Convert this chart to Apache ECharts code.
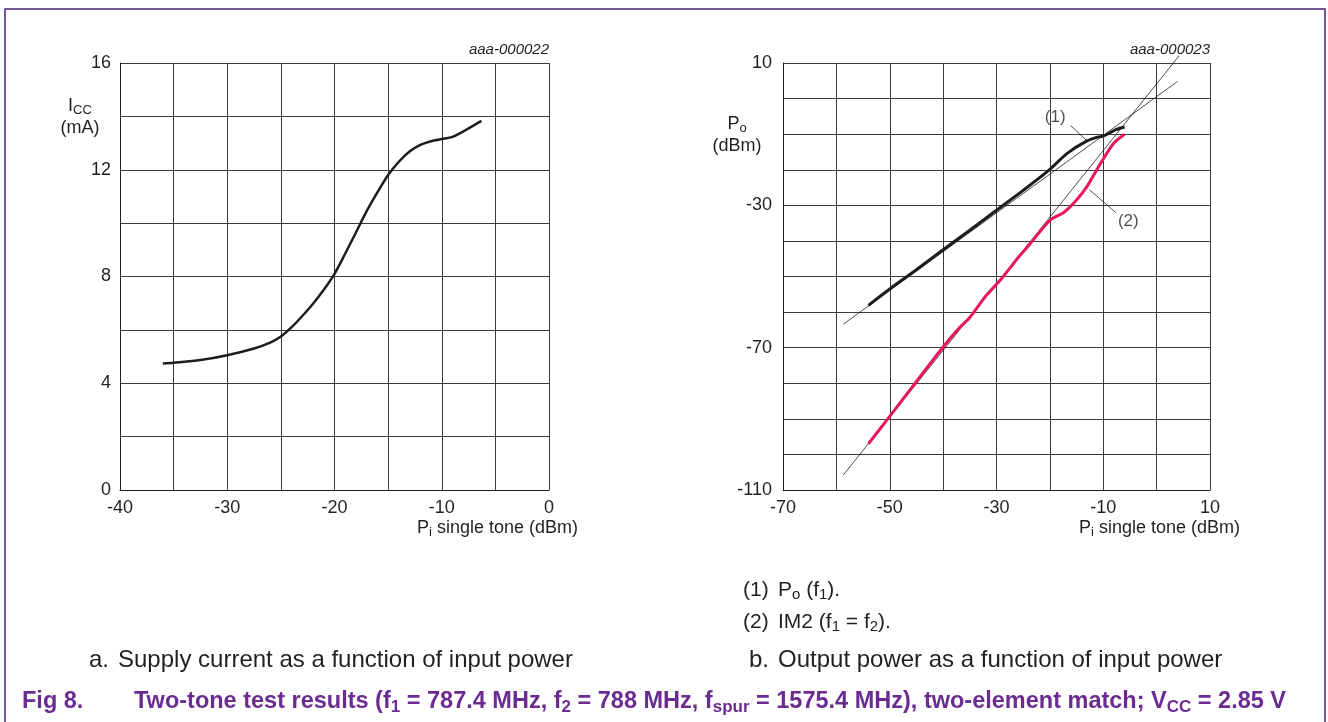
<!DOCTYPE html>
<html>
<head>
<meta charset="utf-8">
<title>Two-tone test results</title>
<script src="https://cdn.jsdelivr.net/npm/echarts@6/dist/echarts.min.js"></script>
<style>
  html, body { margin: 0; padding: 0; background: #fff; }
  #chart { width: 1328px; height: 722px; }
</style>
</head>
<body>
<div id="chart"></div>
<script>
// a. supply current (mA) vs single tone input power (dBm)
const iccPin = [-36, -35, -32.5, -30, -27.5, -26, -25, -24, -23, -22, -21, -20, -19, -18, -17, -16, -15, -14, -13, -12, -11, -10, -9, -7.5, -6.3];
const iccMa = [4.74, 4.77, 4.87, 5.05, 5.3, 5.52, 5.75, 6.1, 6.52, 6.98, 7.5, 8.1, 8.86, 9.65, 10.45, 11.15, 11.8, 12.3, 12.68, 12.93, 13.07, 13.15, 13.23, 13.55, 13.83];

// b. output power (dBm) vs input power (dBm)
// (1) Po (f1)
const poPin = [-54, -50, -45, -40, -35, -30, -25, -20, -16.75, -13.3, -11.1, -9.9, -7.7, -6];
const poDbm = [-58.1, -53.5, -48.1, -42.5, -37, -31.4, -25.8, -19.9, -15.4, -12.1, -10.85, -10.5, -8.8, -8.0];
// (2) IM2 (f1 = f2)
const im2Pin = [-54, -50, -45, -40, -37, -35, -32, -29, -26, -23.7, -20, -17.4, -15, -13, -10.5, -8, -6];
const im2Dbm = [-97, -89.3, -79.5, -69.8, -64.5, -61.5, -55.5, -50.5, -44.8, -40.8, -34.2, -32.0, -28.5, -24.6, -18.2, -12.5, -10];

// thin extrapolation lines
const poFitPin = [-58.7, 3.9];
const poFitDbm = [-63.4, 4.8];
const im2FitPin = [-58.7, 4.2];
const im2FitDbm = [-105.8, 12];

// callouts (1) and (2)
const lead1 = [[-16.1, -7.6], [-13.2, -11.7]];
const lead2 = [[-12.6, -25.6], [-7.6, -32.1]];
const noteTags = [[-19.0, -5.4, '(1)'], [-5.3, -34.5, '(2)']];

const font = 'Liberation Sans';
const ink = '#231f20';
const purple = '#6b2c91';
const zip = (xs, ys) => xs.map((x, i) => [x, ys[i]]);

let myChart = echarts.init(document.getElementById('chart'));

function axis(extra) {
  return Object.assign({
    type: 'value',
    axisLine: { show: true, onZero: false, lineStyle: { color: ink, width: 1 } },
    axisTick: { show: false },
    splitLine: { show: true, lineStyle: { color: '#3a3a3a', width: 1 } }
  }, extra);
}

const lbl = { color: ink, fontSize: 18, fontFamily: font };

// rich text styles for subscripts
function rich(size, bold, color) {
  const w = bold ? 'bold' : 'normal';
  return {
    n: { fontSize: size, lineHeight: size + 4, fontFamily: font, fontWeight: w, fill: color, color: color },
    s: { fontSize: Math.round(size * 0.72), lineHeight: Math.round(size * 0.72), verticalAlign: 'bottom', fontFamily: font, fontWeight: w, fill: color, color: color }
  };
}

function txt(x, y, text, size, opts) {
  opts = opts || {};
  return {
    type: 'text',
    x: x, y: y,
    style: {
      text: text,
      rich: rich(size, opts.bold, opts.color || ink),
      fontSize: size,
      fontFamily: font,
      fontStyle: opts.italic ? 'italic' : 'normal',
      fontWeight: opts.bold ? 'bold' : 'normal',
      fill: opts.color || ink,
      align: opts.align || 'left',
      verticalAlign: 'middle'
    }
  };
}

let option = {
  animation: false,
  textStyle: { fontFamily: font },
  grid: [
    { left: 120, top: 63, width: 429, height: 427 },
    { left: 783, top: 63, width: 427, height: 427 }
  ],
  xAxis: [
    axis({ gridIndex: 0, min: -40, max: 0, interval: 5,
      axisLabel: Object.assign({ margin: 9, formatter: v => (v % 10 === 0 ? String(v) : '') }, lbl) }),
    axis({ gridIndex: 1, min: -70, max: 10, interval: 10,
      axisLabel: Object.assign({ margin: 9, formatter: v => ((v + 70) % 20 === 0 ? String(v) : '') }, lbl) })
  ],
  yAxis: [
    axis({ gridIndex: 0, min: 0, max: 16, interval: 2,
      axisLabel: Object.assign({ margin: 9, formatter: v => (v % 4 === 0 ? String(v) : '') }, lbl) }),
    axis({ gridIndex: 1, min: -110, max: 10, interval: 10,
      axisLabel: Object.assign({ margin: 11, formatter: v => ((v + 110) % 40 === 0 ? String(v) : '') }, lbl) })
  ],
  series: [
    {
      name: 'ICC', type: 'line', xAxisIndex: 0, yAxisIndex: 0,
      data: zip(iccPin, iccMa), smooth: 0.3, symbol: 'none',
      lineStyle: { color: '#1d1d1b', width: 2.5 }
    },
    {
      name: 'Po fit', type: 'line', xAxisIndex: 1, yAxisIndex: 1,
      data: zip(poFitPin, poFitDbm), symbol: 'none', clip: false,
      lineStyle: { color: ink, width: 0.8 }
    },
    {
      name: 'IM2 fit', type: 'line', xAxisIndex: 1, yAxisIndex: 1,
      data: zip(im2FitPin, im2FitDbm), symbol: 'none', clip: false,
      lineStyle: { color: ink, width: 0.8 }
    },
    {
      name: 'Po (f1)', type: 'line', xAxisIndex: 1, yAxisIndex: 1,
      data: zip(poPin, poDbm), smooth: 0.3, symbol: 'none',
      lineStyle: { color: '#1d1d1b', width: 3 }
    },
    {
      name: 'IM2', type: 'line', xAxisIndex: 1, yAxisIndex: 1,
      data: zip(im2Pin, im2Dbm), smooth: 0.3, symbol: 'none',
      lineStyle: { color: '#e8185c', width: 3 }
    },
    {
      name: 'lead1', type: 'line', xAxisIndex: 1, yAxisIndex: 1,
      data: lead1, symbol: 'none', lineStyle: { color: ink, width: 0.8 }
    },
    {
      name: 'lead2', type: 'line', xAxisIndex: 1, yAxisIndex: 1,
      data: lead2, symbol: 'none', lineStyle: { color: ink, width: 0.8 }
    },
    {
      name: 'tags', type: 'scatter', xAxisIndex: 1, yAxisIndex: 1,
      data: noteTags, symbolSize: 1, itemStyle: { color: 'transparent' },
      label: { show: true, position: 'inside', formatter: p => p.value[2], color: ink, fontSize: 17, fontFamily: font }
    }
  ],
  graphic: [
    // page frame
    { type: 'polyline', shape: { points: [[5, 722], [5, 9], [1325, 9], [1325, 722]] },
      style: { stroke: '#4b1f7a', lineWidth: 1.5, fill: null } },
    txt(549, 50, 'aaa-000022', 15, { align: 'right', italic: true }),
    txt(1210, 50, 'aaa-000023', 15, { align: 'right', italic: true }),
    txt(80, 106, '{n|I}{s|CC}', 18, { align: 'center' }),
    txt(80, 128, '(mA)', 18, { align: 'center' }),
    txt(737, 124, '{n|P}{s|o}', 18, { align: 'center' }),
    txt(737, 146, '(dBm)', 18, { align: 'center' }),
    txt(578, 528, '{n|P}{s|i}{n| single tone (dBm)}', 18, { align: 'right' }),
    txt(1240, 528, '{n|P}{s|i}{n| single tone (dBm)}', 18, { align: 'right' }),
    txt(743, 590, '(1)', 21),
    txt(778, 590, '{n|P}{s|o}{n| (f}{s|1}{n|).}', 21),
    txt(743, 622, '(2)', 21),
    txt(778, 622, '{n|IM2 (f}{s|1}{n| = f}{s|2}{n|).}', 21),
    txt(89, 660, 'a.', 24),
    txt(118, 660, 'Supply current as a function of input power', 24),
    txt(749, 660, 'b.', 24),
    txt(778, 660, 'Output power as a function of input power', 24),
    txt(22, 702, 'Fig 8.', 23.5, { bold: true, color: purple }),
    txt(134, 702, '{n|Two-tone test results (f}{s|1}{n| = 787.4 MHz, f}{s|2}{n| = 788 MHz, f}{s|spur}{n| = 1575.4 MHz), two-element match; V}{s|CC}{n| = 2.85 V}', 23.5, { bold: true, color: purple })
  ]
};

myChart.setOption(option);
</script>
</body>
</html>
